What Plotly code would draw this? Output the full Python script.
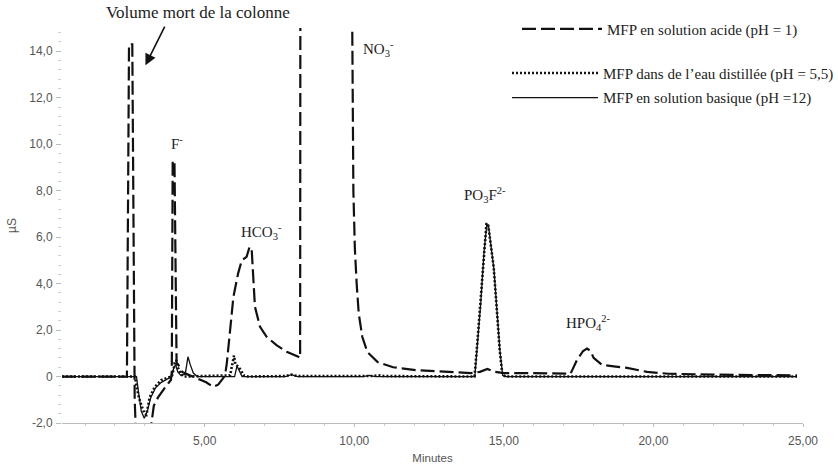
import plotly.graph_objects as go

# Conductivity chromatograms of MFP (monofluorophosphate) solutions
# time in minutes, signal in µS

acid_t = [0.23, 2.40, 2.44, 2.47, 2.58, 2.62, 2.66, 2.70, 2.90, 3.10, 3.22, 3.30, 3.44, 3.66, 3.87,
          3.90, 3.93, 3.99, 4.06, 4.12, 4.25, 4.50, 4.80, 5.05, 5.28, 5.45, 5.60, 5.68, 5.74, 5.85,
          5.96, 6.12, 6.24, 6.40, 6.50, 6.57, 6.63, 6.68, 6.85, 7.07, 7.40, 7.74, 8.13, 8.19, 8.21,
          8.50, 9.50, 9.93, 9.97, 10.02, 10.08, 10.15, 10.27, 10.44, 10.78, 11.30, 12.10, 13.00,
          13.90, 14.20, 14.45, 14.70, 15.00, 16.00, 17.00, 17.23, 17.45, 17.65, 17.78, 17.90, 18.00,
          18.28, 18.67, 19.12, 19.79, 20.50, 22.00, 24.80]
acid_v = [0.0, 0.0, 8.0, 14.3, 14.3, 7.0, -1.0, -2.4, -3.0, -2.8, -2.0, -1.25, -0.9, -0.5, -0.15,
          0.2, 9.3, 9.25, 0.6, 0.5, 0.2, 0.05, -0.1, -0.25, -0.45, -0.35, -0.1, 0.05, 0.58, 2.0,
          3.43, 4.45, 5.0, 5.15, 5.58, 5.5, 4.15, 3.0, 2.14, 1.71, 1.35, 1.07, 0.85, 0.8, 40.0,
          60.0, 60.0, 15.5, 8.0, 5.5, 4.0, 2.7, 1.7, 1.05, 0.62, 0.40, 0.27, 0.20,
          0.15, 0.20, 0.33, 0.20, 0.15, 0.15, 0.12, 0.12, 0.73, 1.10, 1.20, 1.10, 0.80,
          0.50, 0.44, 0.37, 0.20, 0.12, 0.08, 0.05]

water_t = [0.23, 2.67, 2.72, 2.80, 2.90, 2.99, 3.05, 3.10, 3.16, 3.33, 3.55, 3.77, 3.90, 3.96, 4.00,
           4.05, 4.10, 4.20, 4.30, 5.85, 5.92, 5.98, 6.03, 6.10, 6.20, 6.30, 6.45, 7.70, 7.90, 8.10,
           10.60, 10.80, 11.00, 14.02, 14.11, 14.22, 14.33, 14.42, 14.48, 14.58, 14.66, 14.78, 14.86,
           14.95, 15.05, 24.80]
water_v = [0.0, 0.0, -0.4, -0.9, -1.3, -1.6, -1.65, -1.3, -0.9, -0.45, -0.15, -0.05, 0.0, 0.3, 0.6,
           0.7, 0.4, 0.1, 0.0, 0.05, 0.6, 0.9, 0.5, 0.45, 0.3, 0.05, 0.0, 0.02, 0.08, 0.02,
           0.02, 0.05, 0.02, 0.0, 1.4, 3.3, 5.45, 6.6, 6.5, 5.6, 4.7, 2.6, 1.15,
           0.1, 0.0, 0.0]

base_t = [0.23, 2.72, 2.78, 2.88, 2.98, 3.08, 3.20, 3.35, 3.55, 3.75, 3.90, 3.97, 4.03, 4.10,
          4.20, 4.35, 4.44, 4.52, 4.62, 4.75, 6.00, 6.08, 6.16, 6.25, 7.70, 7.90, 8.10, 10.30, 10.50,
          10.70, 14.03, 14.12, 14.23, 14.34, 14.43, 14.49, 14.59, 14.67, 14.79, 14.87, 14.96, 15.05,
          24.80]
base_v = [0.0, 0.0, -0.6, -1.5, -1.8, -1.5, -0.9, -0.5, -0.25, -0.1, 0.0, 0.4, 0.5, 0.2,
          0.05, 0.1, 0.85, 0.5, 0.15, 0.0, 0.0, 0.45, 0.2, 0.0, 0.0, 0.08, 0.0, 0.0, 0.05,
          0.0, 0.0, 1.3, 3.2, 5.4, 6.55, 6.45, 5.5, 4.6, 2.5, 1.1, 0.05, 0.0,
          0.0]

series_names = ["MFP en solution acide (pH = 1)",
                "MFP dans de l\u2019eau distillée (pH = 5,5)",
                "MFP en solution basique (pH =12)"]

y_ticks = [-2, 0, 2, 4, 6, 8, 10, 12, 14]
y_tick_text = ["-2,0", "0", "2,0", "4,0", "6,0", "8,0", "10,0", "12,0", "14,0"]
x_ticks = [5, 10, 15, 20, 25]
x_tick_text = ["5,00", "10,00", "15,00", "20,00", "25,00"]

# ion labels: (text, time, µS) placed beside their peaks
ion_labels = [
    ("F<sup>-</sup>", 3.80, 10.05),
    ("HCO<sub>3</sub><sup>-</sup>", 6.15, 6.20),
    ("NO<sub>3</sub><sup>-</sup>", 10.24, 14.1),
    ("PO<sub>3</sub>F<sup>2-</sup>", 13.60, 7.8),
    ("HPO<sub>4</sub><sup>2-</sup>", 17.02, 2.3),
]

serif = "Liberation Serif, Times New Roman, serif"
sans = "Liberation Sans, Arial, sans-serif"

fig = go.Figure()
fig.add_trace(go.Scatter(x=acid_t, y=acid_v, mode="lines", name=series_names[0],
                         line=dict(color="#111", width=2.2, dash="14px,5px"),
                         legend="legend", legendgroup="a"))
fig.add_trace(go.Scatter(x=water_t, y=water_v, mode="lines", name=series_names[1],
                         line=dict(color="#111", width=2.6, dash="2px,2px"),
                         legend="legend2", legendgroup="b"))
fig.add_trace(go.Scatter(x=base_t, y=base_v, mode="lines", name=series_names[2],
                         line=dict(color="#111", width=1.3),
                         legend="legend2", legendgroup="c"))

for text, tx, ty in ion_labels:
    fig.add_annotation(x=tx, y=ty, text=text, showarrow=False, xanchor="left", yanchor="middle",
                       font=dict(family=serif, size=15, color="#222"))

fig.add_annotation(x=4.79, y=1.038, xref="x", yref="paper", yanchor="middle",
                   text="Volume mort de la colonne", showarrow=False,
                   font=dict(family=serif, size=17, color="#222"))
fig.add_annotation(x=3.02, y=13.4, text="", showarrow=True, ax=20, ay=-40,
                   arrowhead=2, arrowsize=1.4, arrowwidth=1.6, arrowcolor="#111")

fig.update_layout(
    width=838, height=467,
    margin=dict(l=62, r=35, t=28, b=44, autoexpand=False),
    paper_bgcolor="white", plot_bgcolor="white",
    font=dict(family=sans, size=12, color="#555"),
    showlegend=True,
    legend=dict(x=0.614, y=0.997, xanchor="left", yanchor="middle", itemwidth=80,
                bgcolor="rgba(0,0,0,0)", font=dict(family=serif, size=15, color="#222")),
    legend2=dict(x=0.6005, y=0.855, xanchor="left", yanchor="middle", itemwidth=86,
                 tracegroupgap=2, bgcolor="rgba(0,0,0,0)",
                 font=dict(family=serif, size=15, color="#222")),
)
fig.update_xaxes(range=[0.23, 25], showline=True, linecolor="#bbb", linewidth=1,
                 tickvals=x_ticks, ticktext=x_tick_text, ticks="outside", ticklen=3,
                 tickcolor="#bbb", ticklabelstandoff=4, automargin=False,
                 tickfont=dict(size=12, color="#555"),
                 minor=dict(dtick=1, ticks="outside", ticklen=2, tickcolor="#ccc"),
                 showgrid=False, zeroline=False,
                 title=dict(text="Minutes", font=dict(size=11.5, color="#555"), standoff=6))
fig.update_yaxes(range=[-2, 15], showline=False, tickvals=y_ticks, ticktext=y_tick_text,
                 ticks="outside", ticklen=5, tickcolor="#bbb", ticklabelstandoff=1,
                 automargin=False, tickfont=dict(size=12, color="#555"),
                 minor=dict(tick0=-2, dtick=0.4, ticks="outside", ticklen=3, tickcolor="#ccc"),
                 showgrid=False, zeroline=False,
                 title=dict(text="µS", font=dict(size=12, color="#555"), standoff=10))

fig.write_html("out.html")
